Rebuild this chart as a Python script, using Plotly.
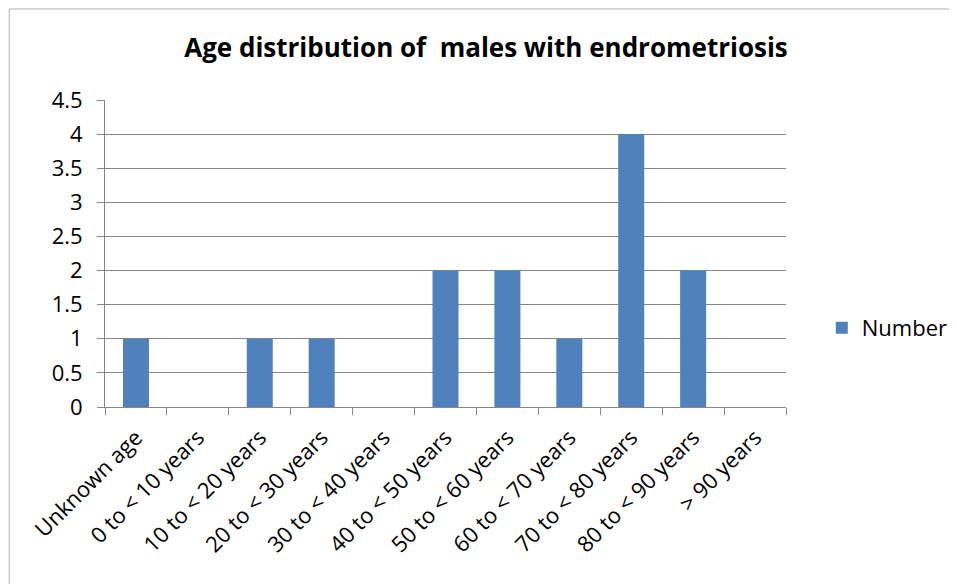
import plotly.graph_objects as go

categories = ["Unknown age", "0 to < 10 years", "10 to < 20 years", "20 to < 30 years",
              "30 to < 40 years", "40 to < 50 years", "50 to < 60 years", "60 to < 70 years",
              "70 to < 80 years", "80 to < 90 years", "> 90 years"]
numbers = [1, 0, 1, 1, 0, 2, 2, 1, 4, 2, 0]
y_ticks = [0, 0.5, 1, 1.5, 2, 2.5, 3, 3.5, 4, 4.5]
y_tick_labels = ["0", "0.5", "1", "1.5", "2", "2.5", "3", "3.5", "4", "4.5"]

FONT = "Open Sans"
OFF = 8  # page body offset
W, H = 957, 584
L, R, T, B = 105 - OFF, W - 790 + OFF, 100 - OFF, H - 407 + OFF
pw, ph = W - L - R, H - T - B

def px_x(px):
    return (px - OFF - L) / pw

def px_y(py):
    return (H - B - (py - OFF)) / ph

fig = go.Figure()
fig.add_trace(go.Bar(
    x=categories, y=numbers, name="Number",
    marker=dict(color="#4f81bd", line=dict(width=0)),
    showlegend=True,
))

fig.update_layout(
    width=W, height=H,
    margin=dict(l=L, r=R, t=T, b=B),
    paper_bgcolor="white", plot_bgcolor="white",
    bargap=0.58,
    font=dict(family=FONT, color="#000000"),
    title=dict(text="<b>Age distribution of &nbsp;males with endrometriosis</b>",
               x=(486 - OFF) / W, xref="container", xanchor="center",
               y=1 - (48 - OFF) / H, yref="container", yanchor="middle",
               font=dict(family=FONT, size=26, color="#000000")),
    showlegend=True,
    legend=dict(x=px_x(826), y=px_y(328), xanchor="left", yanchor="middle",
                font=dict(family=FONT, size=22, color="#000000"),
                bgcolor="rgba(0,0,0,0)", itemwidth=30),
    xaxis=dict(
        type="category", tickangle=-45, tickson="boundaries",
        ticks="outside", ticklen=7, tickcolor="#868686",
        showline=True, linecolor="#868686", linewidth=1,
        showgrid=False, ticklabelstandoff=8,
        tickfont=dict(family=FONT, size=22, color="#000000"),
    ),
    yaxis=dict(
        range=[0, 4.5], tickvals=y_ticks, ticktext=y_tick_labels,
        ticks="outside", ticklen=7, tickcolor="#868686",
        showline=True, linecolor="#868686", linewidth=1,
        showgrid=True, gridcolor="#868686", gridwidth=1,
        zeroline=False, ticklabelstandoff=10,
        tickfont=dict(family=FONT, size=22, color="#000000"),
    ),
    shapes=[
        dict(type="line", xref="paper", yref="paper",
             x0=px_x(8.8), x1=px_x(970), y0=px_y(9), y1=px_y(9),
             line=dict(color="#c8c8c8", width=1.5)),
        dict(type="line", xref="paper", yref="paper",
             x0=px_x(8.8), x1=px_x(8.8), y0=px_y(9), y1=px_y(600),
             line=dict(color="#c8c8c8", width=1.5)),
    ],
)

fig.write_html("out.html")
